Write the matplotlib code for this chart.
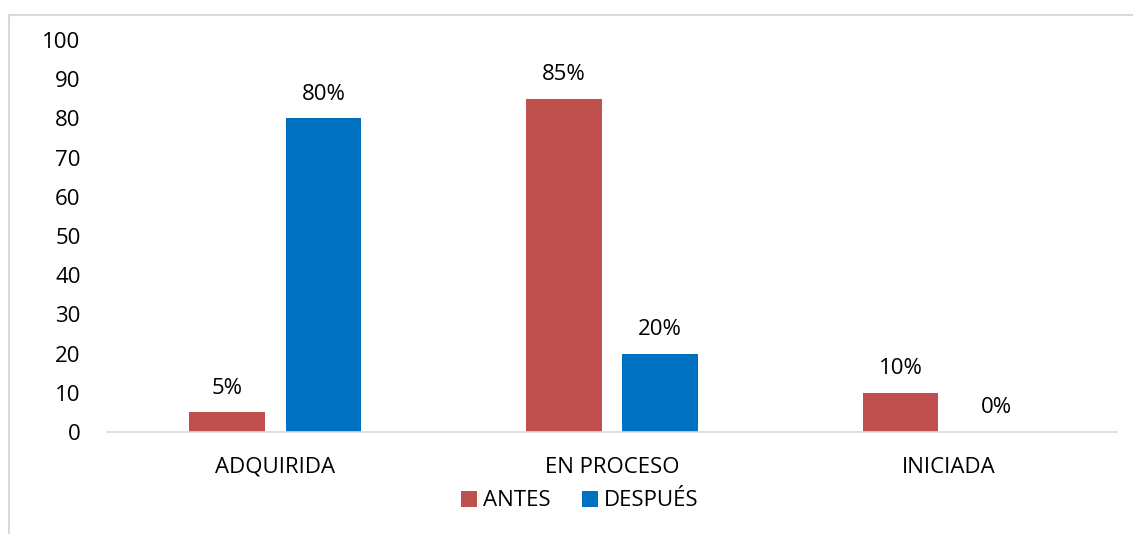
import numpy as np
import matplotlib.pyplot as plt
from matplotlib.lines import Line2D

categories = ["ADQUIRIDA", "EN PROCESO", "INICIADA"]
antes = [5, 85, 10]
despues = [80, 20, 0]
series_names = ["ANTES", "DESPUÉS"]

plt.rcParams['font.family'] = ['Open Sans', 'DejaVu Sans']
FS = 16

fig = plt.figure(figsize=(11.33, 5.34), dpi=100)
ax = fig.add_axes([107 / 1133, 1 - 432 / 534, 1010 / 1133, 392 / 534])

x = np.arange(len(categories))
w = 0.225
off = 0.143
b1 = ax.bar(x - off, antes, w, color="#C0504D", label=series_names[0])
b2 = ax.bar(x + off, despues, w, color="#0070C0", label=series_names[1])

for bars, vals in ((b1, antes), (b2, despues)):
    for rect, v in zip(bars, vals):
        ax.text(rect.get_x() + rect.get_width() / 2, v + 3.5, f"{v}%",
                ha="center", va="bottom", fontsize=FS)

ax.set_xlim(-0.5, 2.5)
ax.set_ylim(0, 100)
ax.set_yticks(range(0, 101, 10))
ax.set_xticks(x)
ax.set_xticklabels(categories)
ax.tick_params(axis="y", length=0, pad=19, labelsize=FS)
ax.tick_params(axis="x", length=0, pad=18, labelsize=FS)
for s in ("top", "right", "left"):
    ax.spines[s].set_visible(False)
ax.spines["bottom"].set_color("#D9D9D9")
ax.spines["bottom"].set_linewidth(1.2)

fig.legend(handles=[b1, b2], loc="center", bbox_to_anchor=(580 / 1133, 1 - 501 / 534),
           ncol=2, frameon=False, fontsize=FS, handlelength=0.7, handleheight=0.7,
           handletextpad=0.3, columnspacing=1.4)

# chart border (top and left visible)
fig.add_artist(Line2D([9 / 1133, 1], [1 - 15 / 534, 1 - 15 / 534], color="#D9D9D9", lw=1.5))
fig.add_artist(Line2D([9 / 1133, 9 / 1133], [0, 1 - 15 / 534], color="#D9D9D9", lw=1.5))

fig.savefig("out.png", dpi=100)
